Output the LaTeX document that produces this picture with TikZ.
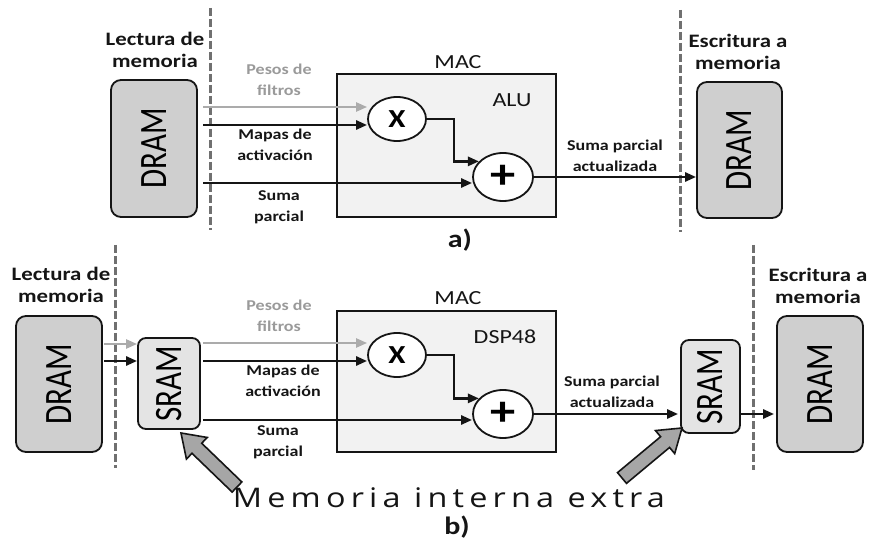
\documentclass[tikz,border=0pt]{standalone}
\usepackage{fontspec}
\setmainfont{Carlito}
\newfontfamily\memfont[LetterSpace=16]{Open Sans}
\usetikzlibrary{arrows.meta,shapes.geometric,calc}
\newcommand\sx[1]{\scalebox{1.2}[1]{#1}}
\newcommand\twol[2]{\sx{\begin{tabular}{@{}c@{}}#1\\#2\end{tabular}}}
\newcommand\vtxt[1]{\rotatebox{90}{\scalebox{1}[1.25]{#1}}}
\definecolor{ink}{HTML}{151515}
\definecolor{sepc}{HTML}{707070}
\definecolor{lightarr}{HTML}{ABABAB}
\definecolor{lighttxt}{HTML}{9A9A9A}
\definecolor{memfill}{HTML}{CFCFCF}
\definecolor{sramfill}{HTML}{E4E4E4}
\definecolor{macfill}{HTML}{F2F2F2}
\definecolor{blockfill}{HTML}{A6A6A6}
\tikzset{
  mem/.style={draw=ink, line width=1.8pt, rounded corners=10pt, fill=memfill,
    minimum width=86, minimum height=137, inner sep=0, font=\fontsize{31}{31}\selectfont},
  sram/.style={draw=ink, line width=1.8pt, rounded corners=8pt, fill=sramfill,
    inner sep=0, font=\fontsize{31}{31}\selectfont},
  macbox/.style={draw=ink, line width=1.8pt, fill=macfill, inner sep=0,
    minimum width=219},
  op/.style={ellipse, draw=ink, line width=1.8pt, fill=white, minimum width=58,
    minimum height=44, inner sep=0, font=\fontsize{26}{26}\bfseries\selectfont},
  opplus/.style={op, minimum width=60, minimum height=48, font=\fontsize{42}{42}\bfseries\selectfont},
  sepline/.style={draw=sepc, line width=3pt, dash pattern=on 8pt off 3pt},
  arr/.style={draw=ink, line width=2.6pt, -{Triangle[length=11pt,width=9pt]}},
  garr/.style={arr, draw=lightarr, line width=2.2pt},
  head/.style={font=\fontsize{19}{22}\bfseries\selectfont, inner sep=0, text=ink},
  lbl/.style={font=\fontsize{15}{21}\bfseries\selectfont, inner sep=0, text=ink},
  ttl/.style={font=\fontsize{20}{20}\selectfont, inner sep=0, text=ink},
  sub/.style={font=\fontsize{25}{25}\bfseries\selectfont, inner sep=0, text=ink},
  blockarr/.style={draw=ink, line width=1.6pt, fill=blockfill, line join=miter}
}
\begin{document}
\begin{tikzpicture}[x=1pt,y=-1pt]
\fill[white] (0,0) rectangle (871,540);
\useasboundingbox (0,0) rectangle (871,540);

% ================= a) =================
\draw[sepline] (210,8) -- (210,230);
\draw[sepline] (680,10) -- (680,232);

\node[head] (lecA) at (155,52.5) {\twol{Lectura de}{memoria}};
\node[head] (escA) at (738,54) {\twol{Escritura a}{memoria}};

\node[mem] (dramA1) at (154,148.5) {\vtxt{DRAM}};
\node[mem, minimum width=85, minimum height=136] (dramA2) at (739.5,150) {\vtxt{DRAM}};

\node[macbox, minimum height=143] (macA) at (446.5,145.5) {};
\node[ttl] (macAt) at (458,62) {\sx{MAC}};
\node[ttl] (alu) at (512,100) {\sx{ALU}};

\node[op] (xA) at (397,119) {\sx{X}};
\node[opplus] (pA) at (503,177) {\sx{+}};

\coordinate (gA) at (203,107);
\coordinate (mA) at (203,125);
\coordinate (sA) at (203,183);
\draw[garr] (gA) -- (xA.west |- gA);
\draw[arr] (mA) -- (xA.west |- mA);
\draw[arr] (sA) -- (pA.west |- sA);
\draw[arr] (xA.east) -- ++(27,0) |- (pA.147);
\draw[arr] (pA.east) -- (dramA2.west |- pA.east);

\node[lbl, text=lighttxt] (pesA) at (279,81) {\twol{Pesos de}{filtros}};
\node[lbl] (mapA) at (275,146) {\twol{Mapas de}{activación}};
\node[lbl] (sumA) at (279,207) {\twol{Suma}{parcial}};
\node[lbl] (supA) at (615,157) {\twol{Suma parcial}{actualizada}};
\node[sub] (labA) at (460,240) {\sx{a)}};

% ================= b) =================
\draw[sepline] (115,245) -- (115,468);
\draw[sepline] (753,245) -- (753,470);

\node[head] (lecB) at (61,287.5) {\twol{Lectura de}{memoria}};
\node[head] (escB) at (818,288.5) {\twol{Escritura a}{memoria}};

\node[mem, minimum height=136] (dramB1) at (59,384) {\vtxt{DRAM}};
\node[mem, minimum height=136] (dramB2) at (820,384) {\vtxt{DRAM}};
\node[sram, minimum width=62, minimum height=91] (sramL) at (169,383.5) {\vtxt{SRAM}};
\node[sram, minimum width=59, minimum height=93] (sramR) at (710.5,386.5) {\vtxt{SRAM}};

\node[macbox, minimum height=141] (macB) at (446.5,381.5) {};
\node[ttl] (macBt) at (458,298) {\sx{MAC}};
\node[ttl] (dsp) at (505,337) {\sx{DSP48}};

\node[op] (xB) at (397,355) {\sx{X}};
\node[opplus] (pB) at (503,414) {\sx{+}};

\coordinate (gB0) at (104,344);
\coordinate (mB0) at (104,361);
\draw[garr] (gB0) -- (sramL.west |- gB0);
\draw[arr] (mB0) -- (sramL.west |- mB0);

\coordinate (gB) at (203,343);
\coordinate (mB) at (203,361);
\coordinate (sB) at (203,420);
\draw[garr] (gB) -- (xB.west |- gB);
\draw[arr] (mB) -- (xB.west |- mB);
\draw[arr] (sB) -- (pB.west |- sB);
\draw[arr] (xB.east) -- ++(27,0) |- (pB.147);
\draw[arr, shorten >=2pt] (pB.east) -- (sramR.west |- pB.east);
\draw[arr, shorten >=2pt] (sramR.east |- pB.east) -- (dramB2.west |- pB.east);

\node[lbl, text=lighttxt] (pesB) at (279,316.5) {\twol{Pesos de}{filtros}};
\node[lbl] (mapB) at (283,382) {\twol{Mapas de}{activación}};
\node[lbl] (sumB) at (278,442) {\twol{Suma}{parcial}};
\node[lbl] (supB) at (612,393) {\twol{Suma parcial}{actualizada}};

% block arrows
\coordinate (t1) at (237,487);
\coordinate (h1) at (181,433);
\coordinate (p1) at ($(h1)!22pt!(t1)$);
\draw[blockarr] ($(t1)!7pt!90:(h1)$) -- ($(p1)!7pt!-90:(t1)$) -- ($(p1)!15pt!-90:(t1)$)
  -- (h1) -- ($(p1)!15pt!90:(t1)$) -- ($(p1)!7pt!90:(t1)$) -- ($(t1)!7pt!-90:(h1)$) -- cycle;
\coordinate (t2) at (622,478);
\coordinate (h2) at (682,428);
\coordinate (p2) at ($(h2)!22pt!(t2)$);
\draw[blockarr] ($(t2)!7pt!90:(h2)$) -- ($(p2)!7pt!-90:(t2)$) -- ($(p2)!15pt!-90:(t2)$)
  -- (h2) -- ($(p2)!15pt!90:(t2)$) -- ($(p2)!7pt!90:(t2)$) -- ($(t2)!7pt!-90:(h2)$) -- cycle;

\node[inner sep=0, text=ink] (memx) at (449,498) {\sx{\memfont\fontsize{27}{27}\selectfont Memoria interna extra}};
\node[sub] (labB) at (457,527) {\sx{b)}};
\end{tikzpicture}
\end{document}
